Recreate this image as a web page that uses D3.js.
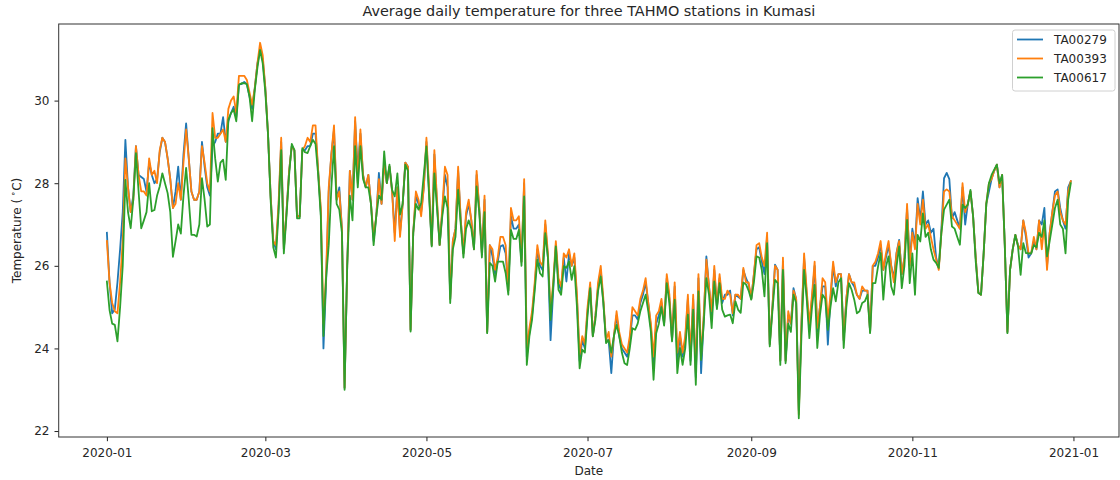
<!DOCTYPE html>
<html>
<head>
<meta charset="utf-8">
<script src="https://cdn.jsdelivr.net/npm/d3@7"></script>
<style>
  html, body { margin: 0; padding: 0; background: #fff; }
  svg { display: block; font-family: "DejaVu Sans", sans-serif; }
</style>
</head>
<body>
<svg id="chart" width="1120" height="480"></svg>
<script>
// Daily mean temperature (°C), 2020-01-01 .. 2020-12-31
const firstDay = "2020-01-01";
const lastDay = "2020-12-31";

const stations = ["TA00279", "TA00393", "TA00617"];
const stationColors = ["#1f77b4", "#ff7f0e", "#2ca02c"];

const ta00279 = [
  26.8, 25.6, 24.85, 24.95, 25.6, 26.4, 27.3, 29.05, 27.9, 27.3,
  27.7, 28.9, 28.2, 28.15, 28.1, 27.8, 28.5, 28.2, 28.0, 28.1,
  28.75, 29.1, 29.0, 28.6, 28.1, 27.4, 27.8, 28.4, 27.6, 28.7,
  29.45, 28.6, 27.8, 27.6, 27.6, 27.8, 29.0, 28.4, 27.9, 27.7,
  28.9, 29.0, 29.2, 29.2, 29.6, 29.0, 29.5, 29.7, 29.85, 29.6,
  30.4, 30.4, 30.45, 30.4, 30.1, 29.8, 30.3, 30.9, 31.2, 31.0,
  30.3, 29.2, 27.7, 26.6, 26.4, 27.4, 29.0, 26.4, 27.3, 28.3,
  28.9, 28.8, 27.2, 27.2, 28.8, 28.8, 28.9, 28.9, 29.2, 29.2,
  28.3, 27.3, 24.0, 25.6, 27.8, 28.7, 29.3, 27.6, 27.9, 26.9,
  23.05, 26.0, 28.3, 27.6, 29.5, 28.3, 29.2, 28.2, 27.9, 28.2,
  27.5, 26.6, 27.2, 28.25, 27.5, 28.5, 28.0, 28.4, 27.8, 26.8,
  27.9, 26.8, 27.5, 28.5, 28.4, 24.45, 26.8, 27.7, 27.5, 27.3,
  27.9, 29.0, 27.8, 26.5, 28.7, 27.5, 26.5, 27.3, 28.2, 27.9,
  25.2, 26.6, 26.9, 28.3, 27.1, 26.3, 27.2, 27.5, 27.1, 26.4,
  28.2, 27.4, 26.3, 27.6, 24.4, 26.5, 26.23, 25.8, 26.1, 26.47,
  26.5, 26.3, 25.4, 27.2, 26.9, 26.9, 27.0, 26.1, 28.0, 23.8,
  24.4, 24.8, 25.5, 26.4, 26.0, 25.9, 27.0, 26.2, 24.2, 25.4,
  26.5, 25.58, 25.4, 26.2, 25.62, 26.3, 26.0, 26.2, 25.2, 23.7,
  24.2, 24.0, 24.9, 25.5, 24.3, 24.8, 25.5, 25.9, 25.1, 24.2,
  24.2, 23.4, 24.3, 24.8, 24.3, 24.0, 23.9, 23.8, 24.2, 24.8,
  24.8, 24.7, 25.1, 25.3, 25.6, 25.1, 24.5, 23.6, 24.6, 24.8,
  25.1, 24.6, 25.7, 25.2, 24.2, 25.5, 23.7, 24.3, 23.8, 24.2,
  25.2, 23.7, 25.2, 23.3, 25.7, 23.4, 24.7, 26.23, 25.5, 24.8,
  25.9, 25.0, 25.7, 25.1, 25.3, 25.3, 25.4, 24.8, 25.3, 25.25,
  25.2, 25.9, 25.7, 25.55, 25.2, 25.8, 26.4, 26.45, 26.1, 25.8,
  26.7, 24.1, 25.0, 26.03, 25.9, 23.7, 26.1, 23.7, 24.8, 24.6,
  25.46, 25.2, 22.5, 24.6, 26.2, 25.3, 24.5, 25.2, 26.0, 24.4,
  25.0, 25.5, 25.5, 24.09, 25.2, 26.0, 25.5, 25.8, 25.8, 24.2,
  25.2, 25.8, 25.6, 25.5, 25.3, 25.2, 25.4, 25.4, 25.4, 24.4,
  26.0, 26.0, 26.2, 26.5, 25.9, 26.2, 26.5, 26.0, 25.7, 26.31,
  26.63, 25.8, 26.2, 27.4, 26.1, 26.9, 26.5, 27.64, 27.1, 27.8,
  27.0, 27.1, 26.8, 26.9, 26.2, 25.95, 26.9, 28.12, 28.25, 28.1,
  27.15, 27.3, 27.1, 26.9, 27.9, 27.0, 27.5, 27.8, 27.2, 26.2,
  25.35, 25.3, 26.3, 27.5, 27.8, 28.1, 28.3, 28.45, 27.9, 28.2,
  26.5, 24.4, 25.9, 26.4, 26.75, 26.5, 26.4, 27.1, 26.7, 26.2,
  26.3, 26.6, 26.4, 27.1, 27.0, 27.4, 26.0, 26.8, 27.3, 27.8,
  27.85, 27.4, 27.1, 26.9, 27.9, 28.05
];

const ta00393 = [
  26.6, 25.6, 25.1, 24.9, 24.85, 25.6, 26.6, 28.6, 27.9, 27.3,
  27.6, 28.9, 28.2, 27.8, 27.8, 27.7, 28.6, 28.2, 28.3, 28.0,
  28.8, 29.1, 29.0, 28.6, 28.1, 27.4, 27.5, 28.0, 27.6, 28.5,
  29.3, 28.6, 27.8, 27.6, 27.6, 27.8, 28.9, 28.5, 28.0, 27.8,
  29.7, 29.1, 29.1, 29.2, 29.3, 29.0, 29.8, 30.0, 30.1, 29.7,
  30.6, 30.6, 30.6, 30.5, 30.2, 29.9, 30.3, 30.9, 31.4, 31.1,
  30.3, 29.2, 27.7, 26.6, 26.5, 27.5, 29.1, 26.4, 27.3, 28.3,
  28.9, 28.8, 27.2, 27.2, 28.8, 28.9, 29.1, 29.0, 29.4, 29.4,
  28.3, 27.4, 24.6, 25.8, 27.9, 28.7, 29.4, 27.6, 27.8, 26.9,
  23.05, 26.0, 28.3, 27.6, 29.6, 28.0, 29.3, 28.2, 27.9, 28.2,
  27.5, 26.7, 27.2, 28.1, 27.5, 28.5, 28.0, 28.4, 27.8, 26.6,
  27.9, 26.7, 27.5, 28.5, 28.4, 24.45, 26.8, 27.8, 27.6, 27.2,
  27.9, 29.1, 27.9, 26.5, 28.8, 27.6, 26.5, 27.4, 28.4, 28.2,
  25.2, 26.6, 26.9, 28.4, 27.1, 26.3, 27.3, 27.6, 27.1, 26.4,
  28.3, 27.4, 26.3, 27.7, 24.4, 26.5, 26.4, 25.9, 26.2, 26.7,
  26.7, 26.5, 25.4, 27.4, 27.1, 27.1, 27.2, 26.1, 28.1, 24.0,
  24.5, 24.9, 25.6, 26.5, 26.1, 26.0, 27.1, 26.3, 24.9, 25.6,
  26.6, 25.7, 25.5, 26.3, 26.2, 26.4, 26.0, 26.3, 25.3, 23.85,
  24.3, 24.1, 25.0, 25.6, 24.3, 24.8, 25.6, 26.0, 25.2, 24.2,
  24.4, 23.8, 24.3, 24.9, 24.4, 24.1, 24.0, 23.9, 24.3, 25.0,
  24.9, 24.8, 25.2, 25.4, 25.7, 25.1, 24.6, 23.8, 24.8, 24.9,
  25.2, 24.6, 25.8, 25.3, 24.2, 25.6, 23.9, 24.4, 23.9, 24.3,
  25.3, 23.8, 25.3, 23.4, 25.8, 23.8, 24.8, 26.15, 25.5, 24.9,
  26.0, 25.0, 25.8, 25.2, 25.2, 25.4, 25.3, 24.85, 25.3, 25.3,
  25.2, 25.95, 25.6, 25.6, 25.2, 25.8, 26.5, 26.55, 26.2, 26.0,
  26.8, 24.1, 25.0, 26.0, 25.9, 23.7, 26.2, 23.7, 24.9, 24.6,
  25.4, 25.2, 22.4, 24.6, 26.3, 25.4, 24.6, 25.3, 26.1, 24.5,
  25.0, 25.7, 25.6, 24.7, 25.3, 26.1, 25.6, 25.8, 25.8, 24.2,
  25.2, 25.8, 25.6, 25.6, 25.3, 25.2, 25.5, 25.4, 25.4, 24.4,
  26.0, 26.1, 26.3, 26.6, 25.9, 26.3, 26.6, 26.0, 25.6, 26.3,
  26.6, 25.8, 26.2, 27.5, 26.0, 26.8, 26.4, 27.5, 27.0, 27.6,
  26.9, 27.0, 26.7, 26.4, 26.15, 25.9, 26.8, 27.8, 27.85, 27.8,
  27.2, 27.1, 27.0, 26.9, 28.0, 27.3, 27.5, 27.8, 27.2, 26.2,
  25.35, 25.3, 26.3, 27.5, 28.0, 28.1, 28.3, 28.45, 27.9, 28.2,
  26.5, 24.4, 25.9, 26.4, 26.75, 26.5, 26.4, 27.1, 26.8, 26.3,
  26.3, 26.7, 26.4, 27.1, 26.4, 27.0, 25.9, 26.8, 27.3, 27.7,
  27.8, 27.3, 27.1, 27.0, 27.8, 28.05
];

const ta00617 = [
  25.62, 24.93, 24.6, 24.57, 24.17, 25.0, 26.0, 28.08, 27.3, 26.91,
  27.6, 28.73, 27.8, 26.91, 27.1, 27.3, 28.0, 27.32, 27.35, 27.7,
  27.92, 28.24, 28.0, 27.76, 27.3, 26.22, 26.6, 27.0, 26.78, 27.7,
  28.37, 27.6, 26.75, 26.75, 26.71, 27.0, 28.12, 27.6, 26.95, 27.0,
  29.33, 28.6, 28.04, 28.5, 28.57, 28.08, 29.54, 29.7, 29.78, 29.5,
  30.38, 30.42, 30.42, 30.4, 30.1, 29.5, 30.26, 30.8, 31.23, 30.9,
  30.2, 29.2, 27.6, 26.45, 26.2, 27.3, 28.8, 26.3, 27.2, 28.2,
  28.95, 28.8, 27.15, 27.15, 28.85, 28.75, 28.73, 28.9, 29.05, 28.95,
  28.2, 27.2, 24.3, 25.7, 26.5, 27.9, 28.9, 27.5, 27.36, 26.8,
  23.0, 26.0, 27.7, 27.1, 28.9, 27.9, 28.9, 28.1, 27.9, 27.9,
  27.5, 26.5, 27.2, 27.7, 27.6, 28.77, 28.0, 28.45, 27.84, 27.68,
  28.24, 27.24, 27.5, 28.45, 28.3, 24.41, 26.8, 27.5, 27.36, 27.52,
  28.2, 28.89, 27.7, 26.47, 28.24, 27.4, 26.51, 27.2, 27.68, 27.4,
  25.1, 26.4, 26.7, 27.84, 27.0, 26.2, 26.9, 27.1, 26.9, 26.4,
  27.92, 27.3, 26.2, 27.3, 24.37, 26.07, 26.0, 25.62, 26.1, 26.1,
  26.1, 25.82, 25.3, 26.87, 26.65, 26.65, 26.87, 26.0, 27.68, 23.6,
  24.3, 24.7, 25.4, 26.15, 25.82, 25.74, 26.79, 26.2, 24.69, 25.5,
  26.47, 25.42, 25.3, 25.99, 25.95, 26.11, 25.66, 25.99, 25.0, 23.52,
  23.97, 23.9, 24.8, 25.46, 24.29, 24.7, 25.4, 25.74, 25.1, 24.13,
  24.2, 23.9, 24.3, 24.57, 24.3, 23.9, 23.64, 23.6, 24.0, 24.49,
  24.45, 24.6, 24.9, 25.1, 25.3, 24.9, 24.4, 23.24, 24.37, 24.6,
  25.0, 24.55, 25.58, 25.1, 24.17, 25.18, 23.4, 24.01, 23.6, 24.0,
  24.82, 23.6, 24.94, 23.12, 25.38, 23.72, 24.6, 25.7, 25.3, 24.49,
  25.62, 24.95, 25.58, 24.94, 24.77, 24.8, 24.82, 24.61, 25.14, 24.94,
  24.86, 25.6, 25.55, 25.4, 25.18, 25.6, 26.23, 26.2, 25.9, 25.26,
  26.55, 24.05, 24.9, 25.66, 25.58, 23.6, 25.9, 23.64, 24.6, 24.4,
  25.3, 25.1, 22.31, 24.3, 25.9, 25.2, 24.25, 25.0, 25.54, 24.01,
  24.8, 25.3, 25.2, 24.45, 25.0, 25.46, 25.14, 25.6, 25.7, 24.01,
  25.0, 25.58, 25.42, 25.18, 24.85, 24.9, 25.1, 25.14, 25.3, 24.37,
  25.58, 25.58, 25.98, 26.31, 25.18, 25.98, 26.23, 25.5, 25.3, 25.98,
  26.47, 25.46, 26.0, 27.11, 25.58, 26.3, 25.3, 26.75, 26.59, 27.27,
  26.7, 26.8, 26.4, 26.15, 26.07, 25.95, 26.8, 27.36, 27.48, 27.6,
  26.95, 26.9, 26.7, 26.51, 27.48, 27.4, 27.48, 27.84, 27.2, 26.1,
  25.34, 25.3, 26.3, 27.5, 28.0, 28.2, 28.33, 28.45, 28.0, 28.2,
  26.5, 24.37, 25.9, 26.4, 26.75, 26.47, 25.78, 26.55, 26.31, 26.3,
  26.3, 26.5, 26.45, 26.8, 26.7, 27.1, 26.23, 26.6, 27.0, 27.4,
  27.6, 27.0, 26.9, 26.3, 27.6, 28.0
];

const xTickDates = ["2020-01-01", "2020-03-01", "2020-05-01", "2020-07-01", "2020-09-01", "2020-11-01", "2021-01-01"];
const yTicks = [22, 24, 26, 28, 30];

const chartTitle = "Average daily temperature for three TAHMO stations in Kumasi";
const xTitle = "Date";

// ---- layout ----
const svg = d3.select("#chart");
const plot = { left: 58.7, right: 1119, top: 24, bottom: 437 };

const parse = d3.utcParse("%Y-%m-%d");
const dates = d3.utcDay.range(parse(firstDay), d3.utcDay.offset(parse(lastDay), 1));
const seriesValues = [ta00279, ta00393, ta00617];

// 5% padding on both axes, as in the usual auto-scaled plot
const t0 = dates[0], t1 = dates[dates.length - 1];
const span = t1 - t0;
const x = d3.scaleUtc()
  .domain([new Date(+t0 - span * 0.05), new Date(+t1 + span * 0.05)])
  .range([plot.left, plot.right]);

const allVals = seriesValues.flat();
const vmin = d3.min(allVals), vmax = d3.max(allVals);
const vpad = (vmax - vmin) * 0.05;
const y = d3.scaleLinear()
  .domain([vmin - vpad, vmax + vpad])
  .range([plot.bottom, plot.top]);

// ---- lines ----
const line = d3.line()
  .x((d, i) => x(dates[i]))
  .y(d => y(d));

const g = svg.append("g");
seriesValues.forEach((vals, k) => {
  g.append("path")
    .datum(vals)
    .attr("d", line)
    .attr("fill", "none")
    .attr("stroke", stationColors[k])
    .attr("stroke-width", 1.8)
    .attr("stroke-linejoin", "round")
    .attr("stroke-linecap", "square");
});

// ---- axes ----
const xAxis = d3.axisBottom(x)
  .tickValues(xTickDates.map(parse))
  .tickFormat(d3.utcFormat("%Y-%m"))
  .tickSize(4.2)
  .tickPadding(5);
const yAxis = d3.axisLeft(y)
  .tickValues(yTicks)
  .tickFormat(d3.format("d"))
  .tickSize(4.2)
  .tickPadding(5);

const gx = svg.append("g").attr("transform", `translate(0,${plot.bottom})`).call(xAxis);
const gy = svg.append("g").attr("transform", `translate(${plot.left},0)`).call(yAxis);
[gx, gy].forEach(a => {
  a.select(".domain").remove();
  a.selectAll(".tick line").attr("stroke", "#222").attr("stroke-width", 1);
  a.selectAll(".tick text")
    .attr("fill", "#262626")
    .style("font-family", "'DejaVu Sans', sans-serif")
    .style("font-size", "12px");
});
gx.selectAll(".tick text").attr("dy", "0.71em").attr("y", 11);

// frame
svg.append("rect")
  .attr("x", plot.left).attr("y", plot.top)
  .attr("width", plot.right - plot.left).attr("height", plot.bottom - plot.top)
  .attr("fill", "none").attr("stroke", "#333").attr("stroke-width", 1);

// ---- titles ----
svg.append("text")
  .attr("x", (plot.left + plot.right) / 2).attr("y", 16)
  .attr("text-anchor", "middle")
  .style("font-size", "14.4px").attr("fill", "#262626")
  .text(chartTitle);

svg.append("text")
  .attr("x", (plot.left + plot.right) / 2).attr("y", 475)
  .attr("text-anchor", "middle")
  .style("font-size", "12px").attr("fill", "#262626")
  .text(xTitle);

const yLab = svg.append("text")
  .attr("transform", `translate(21,${(plot.top + plot.bottom) / 2}) rotate(-90)`)
  .attr("text-anchor", "middle")
  .style("font-size", "12px").attr("fill", "#262626");
yLab.append("tspan").text("Temperature (\u2009");
yLab.append("tspan").attr("dy", -5).style("font-size", "9px").text("\u2218");
yLab.append("tspan").attr("dy", 5).text("C)");

// ---- legend ----
const lg = svg.append("g");
lg.append("rect")
  .attr("x", 1012.5).attr("y", 30).attr("width", 102.5).attr("height", 61)
  .attr("rx", 2.5)
  .attr("fill", "#fff").attr("fill-opacity", 0.8)
  .attr("stroke", "#d0d0d0").attr("stroke-width", 1);
stations.forEach((name, k) => {
  const yy = 39.5 + k * 19;
  lg.append("line")
    .attr("x1", 1017).attr("x2", 1043)
    .attr("y1", yy).attr("y2", yy)
    .attr("stroke", stationColors[k]).attr("stroke-width", 1.8);
  lg.append("text")
    .attr("x", 1054).attr("y", yy + 4.3)
    .style("font-size", "12px").attr("fill", "#262626")
    .text(name);
});
</script>
</body>
</html>
